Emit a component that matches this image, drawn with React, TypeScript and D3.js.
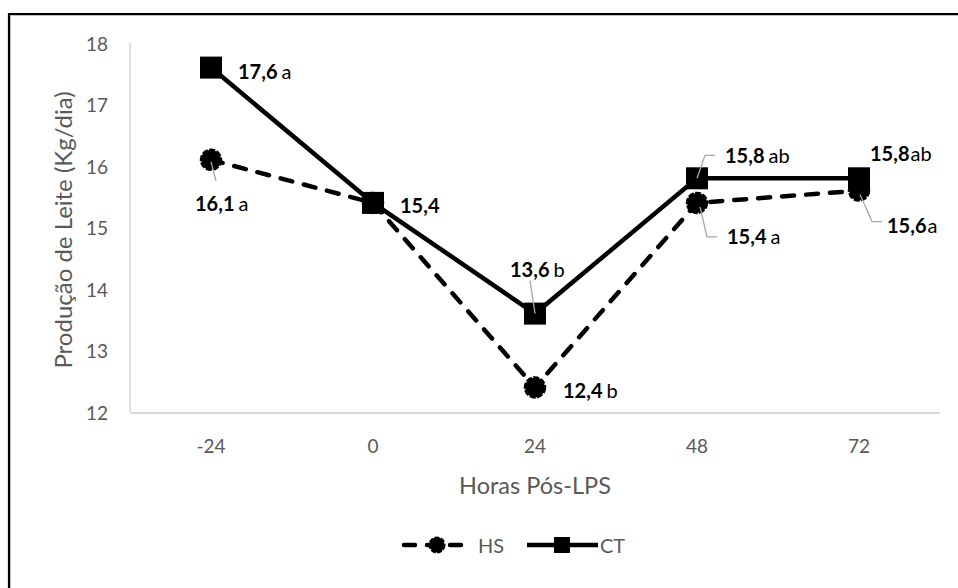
import React from "react";
import * as d3 from "d3";

// Horas após o desafio com LPS
const categories = ["-24", "0", "24", "48", "72"];
// Produção de leite (kg/dia) por tratamento
const hsValues = [16.1, 15.4, 12.4, 15.4, 15.6];
const ctValues = [17.6, 15.4, 13.6, 15.8, 15.8];
// Letras de significância por ponto
const hsLetters = ["a", "", "b", "a", "a"];
const ctLetters = ["a", "", "b", "ab", "ab"];
const yTicks = [12, 13, 14, 15, 16, 17, 18];

const W = 958;
const H = 588;
const FONT = "Lato, 'Open Sans', sans-serif";
const GRAY = "#595959";

// Label placement relative to each point: text offset, gap before the letter, optional leader line
type LabelLayout = { dx: number; dy: number; gap?: number; leader?: [number, number][]; hide?: boolean };
const hsLayout: LabelLayout[] = [
  { dx: -16, dy: 43, leader: [[0, 2], [5, 21]] },
  { dx: 0, dy: 0, hide: true },
  { dx: 28, dy: 3 },
  { dx: 30, dy: 33, leader: [[3, 4], [10, 34], [20, 34]] },
  { dx: 28, dy: 34, gap: 1, leader: [[1, 4], [13, 31], [23, 31]] },
];
const ctLayout: LabelLayout[] = [
  { dx: 27, dy: 3 },
  { dx: 27, dy: 2 },
  { dx: -25, dy: -45, leader: [[0, 0], [-5, -33]] },
  { dx: 28, dy: -23, leader: [[0, 0], [8, -23], [18, -23]] },
  { dx: 11, dy: -25, gap: 1 },
];

export default function App() {
  const x = d3.scaleBand<string>().domain(categories).range([130, 940]);
  const y = d3.scaleLinear().domain([12, 18]).range([412, 43]);
  const cx = (c: string) => (x(c) as number) + x.bandwidth() / 2;

  const line = d3
    .line<number>()
    .x((_, i) => cx(categories[i]))
    .y((v) => y(v));

  const leaderPath = d3.line<[number, number]>();

  const renderLabels = (vals: number[], letters: string[], layout: LabelLayout[], key: string) =>
    vals.map((v, i) => {
      const L = layout[i];
      if (L.hide) return null;
      const px = cx(categories[i]);
      const py = y(v);
      const numTxt = v.toFixed(1).replace(".", ",");
      return (
        <g key={key + i}>
          {L.leader && (
            <path
              d={leaderPath(L.leader.map(([a, b]) => [px + a, py + b]))!}
              fill="none"
              stroke="#a6a6a6"
              strokeWidth={1.3}
            />
          )}
          <text
            x={px + L.dx}
            y={py + L.dy}
            dominantBaseline="central"
            fontFamily={FONT}
            fontSize={20}
            fill="#000"
          >
            <tspan fontWeight="bold">{numTxt}</tspan>
            {letters[i] && <tspan dx={L.gap ?? 4}>{letters[i]}</tspan>}
          </text>
        </g>
      );
    });

  return (
    <svg
      width={W}
      height={H}
      style={{ position: "absolute", left: 0, top: 0, background: "#fff" }}
      fontFamily={FONT}
    >
      <rect x={0} y={0} width={W} height={H} fill="#fff" />
      {/* chart frame */}
      <path d={`M9,${H} L9,14 L${W},14`} fill="none" stroke="#000" strokeWidth={2.2} />
      <path d={`M10.5,${H} L10.5,15.5 L${W},15.5`} fill="none" stroke="#bfbfbf" strokeWidth={1} />

      {/* axes */}
      <line x1={130} x2={130} y1={y(18)} y2={y(12)} stroke="#d9d9d9" strokeWidth={1.5} />
      <line x1={130} x2={940} y1={y(12) + 1} y2={y(12) + 1} stroke="#d9d9d9" strokeWidth={2} />

      {yTicks.map((t) => (
        <text key={t} x={108} y={y(t)} textAnchor="end" dominantBaseline="central" fontSize={19} fill={GRAY}>
          {t}
        </text>
      ))}
      {categories.map((c) => (
        <text key={c} x={cx(c)} y={445} textAnchor="middle" dominantBaseline="central" fontSize={19} fill={GRAY}>
          {c}
        </text>
      ))}

      <text
        transform={`translate(62,230) rotate(-90)`}
        textAnchor="middle"
        dominantBaseline="central"
        fontSize={24}
        fill={GRAY}
      >
        Produção de Leite (Kg/dia)
      </text>
      <text x={535} y={485} textAnchor="middle" dominantBaseline="central" fontSize={23.5} fill={GRAY}>
        Horas Pós-LPS
      </text>

      {/* HS series */}
      <path
        d={line(hsValues)!}
        fill="none"
        stroke="#000"
        strokeWidth={4.5}
        strokeDasharray="12,12"
        strokeLinecap="round"
      />
      {/* CT series */}
      <path d={line(ctValues)!} fill="none" stroke="#000" strokeWidth={4.5} strokeLinejoin="miter" />

      {ctValues.map((v, i) => (
        <rect key={"s" + i} x={cx(categories[i]) - 11} y={y(v) - 11} width={22} height={22} fill="#000" />
      ))}
      {hsValues.map((v, i) => (
        <circle
          key={"c" + i}
          cx={cx(categories[i])}
          cy={y(v)}
          r={10}
          fill="#000"
          stroke="#000"
          strokeWidth={2.5}
          strokeDasharray="6,1.5"
        />
      ))}

      {renderLabels(hsValues, hsLetters, hsLayout, "h")}
      {renderLabels(ctValues, ctLetters, ctLayout, "t")}

      {/* legend */}
      <g>
        <line x1={404} x2={464} y1={545} y2={545} stroke="#000" strokeWidth={4.5} strokeDasharray="11,12" strokeLinecap="round" />
        <circle cx={437} cy={545} r={7.5} fill="#000" stroke="#000" strokeWidth={2} strokeDasharray="5,1.5" />
        <text x={478} y={545} dominantBaseline="central" fontSize={20} fill={GRAY}>
          HS
        </text>
        <line x1={527} x2={598} y1={545} y2={545} stroke="#000" strokeWidth={4.5} />
        <rect x={554} y={537} width={16} height={16} fill="#000" />
        <text x={600} y={545} dominantBaseline="central" fontSize={20} fill={GRAY}>
          CT
        </text>
      </g>
    </svg>
  );
}
